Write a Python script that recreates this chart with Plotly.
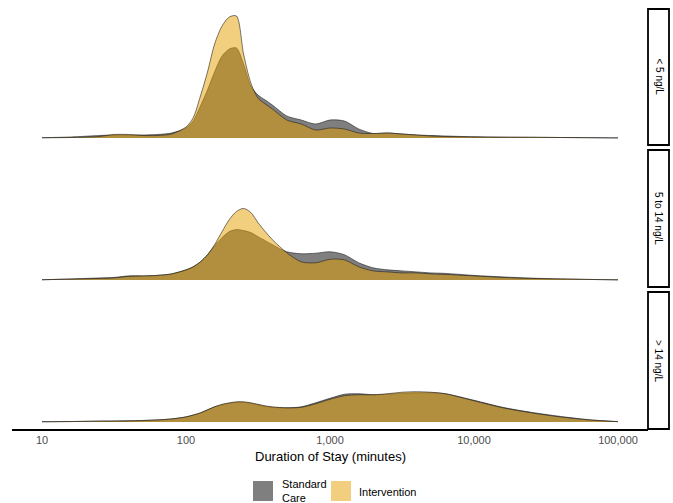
import plotly.graph_objects as go

# Duration grid (minutes) at which densities were read
minutes = [10, 15.8, 25.1, 31.6, 39.8, 50.1, 63.1, 79.4, 100, 112, 126, 141, 158, 178,
           200, 224, 251, 282, 316, 355, 398, 501, 631, 794, 1000, 1259, 1585, 1995,
           2512, 3162, 3981, 5012, 6310, 10000, 15849, 25119, 39811, 63096, 100000]

# Density (arbitrary scaled units)
std_lt5 = [0.3, 1, 2.5, 3, 3, 3, 3.5, 5, 10, 17, 32, 48, 66, 82, 89, 90, 74, 52, 43, 38, 33,
           22, 18, 14, 18, 17, 9, 4.5, 5, 4, 3, 2.5, 2, 1.2, 0.8, 0.6, 0.5, 0.3, 0.1]
int_lt5 = [0.2, 0.5, 1.5, 3.5, 3.5, 2.5, 2.5, 4, 11, 20, 42, 66, 94, 112, 121, 122, 84, 55, 40, 34, 29,
           18, 14, 8, 10, 9, 5, 4.5, 5, 4, 3, 2, 1.5, 1, 0.8, 0.8, 0.5, 0.3, 0.1]
std_5to14 = [0.2, 1, 2, 2.5, 4, 4, 4.5, 6, 10, 13, 18, 25, 34, 42, 48, 50, 49, 47, 43, 39, 35,
             28, 26, 26.5, 28, 25, 17, 12, 10, 9, 8, 7, 6.5, 4.5, 3, 1.8, 1, 0.5, 0.1]
int_5to14 = [0.2, 0.8, 1.5, 2, 3.5, 4, 4.5, 6, 10, 13, 18, 25, 35, 48, 60, 68, 71, 67, 57, 48, 40,
             27, 18, 17, 20.5, 20, 13, 9, 8, 7, 7, 6, 5.5, 4, 2.5, 1.5, 1, 0.5, 0.1]
std_gt14 = [0.2, 0.4, 0.8, 0.9, 1.1, 1.5, 2, 3, 5, 6.8, 9, 12, 15, 17, 18.5, 19.5, 19.5, 18.5, 17, 15.5, 14.5,
            14, 15, 19, 23.5, 27.5, 28, 27, 27.5, 28.5, 29, 29, 28, 21.5, 14.5, 9.5, 5.5, 2.2, 0.3]
int_gt14 = [0.2, 0.4, 0.8, 0.9, 1, 1.4, 2, 3, 5, 6.8, 9, 12, 15, 17.5, 19, 20, 20, 19, 17.5, 16, 15,
            14, 14.5, 18, 22.5, 26, 27, 27, 28, 29.5, 30, 29.5, 28, 21, 14, 9, 5, 2, 0.3]

panel_labels = ["< 5 ng/L", "5 to 14 ng/L", "> 14 ng/L"]
std_series = [std_lt5, std_5to14, std_gt14]
int_series = [int_lt5, int_5to14, int_gt14]
group_names = ["Standard\nCare", "Intervention"]
tick_vals = [10, 100, 1000, 10000, 100000]
tick_text = ["10", "100", "1,000", "10,000", "100,000"]

STD_FILL = "rgba(0,0,0,0.5)"
INT_FILL = "rgba(230,159,0,0.5)"
LINE = "rgba(30,30,30,0.85)"

W, H = 673, 503
L, R, T, B = 12, 25, 9, 74
PW = W - L - R
PH = H - T - B

def px_x(px):
    return (px - L) / PW

def px_y(py):
    return (H - B - py) / PH

# panel pixel extents (top, bottom)
panels_px = [(9, 145), (150, 287), (292, 429)]

fig = go.Figure()
for i in range(3):
    ax = "" if i == 0 else str(i + 1)
    fig.add_trace(go.Scatter(x=minutes, y=std_series[i], mode="lines", fill="tozeroy",
                             fillcolor=STD_FILL, line=dict(color=LINE, width=0.7, shape="spline", smoothing=0.8),
                             xaxis="x" + ax, yaxis="y" + ax, showlegend=False, hoverinfo="skip"))
    fig.add_trace(go.Scatter(x=minutes, y=int_series[i], mode="lines", fill="tozeroy",
                             fillcolor=INT_FILL, line=dict(color=LINE, width=0.7, shape="spline", smoothing=0.8),
                             xaxis="x" + ax, yaxis="y" + ax, showlegend=False, hoverinfo="skip"))

xr = [1 - 30 / 144, 5 + 30 / 144]
layout = dict(width=W, height=H, margin=dict(l=L, r=R, t=T, b=B),
              plot_bgcolor="white", paper_bgcolor="white",
              font=dict(family="Liberation Sans, Arial, sans-serif", color="black"))
for i in range(3):
    ax = "" if i == 0 else str(i + 1)
    top, bot = panels_px[i]
    bottom = (i == 2)
    layout["xaxis" + ax] = dict(type="log", range=xr, domain=[0, 1], anchor="y" + ax,
                                showgrid=False, zeroline=False,
                                showline=bottom, linecolor="black", linewidth=1.5,
                                showticklabels=bottom, tickvals=tick_vals, ticktext=tick_text,
                                ticks="", tickfont=dict(size=11, color="#4d4d4d"),
                                matches=None if i == 0 else "x")
    layout["yaxis" + ax] = dict(range=[-7, 129], domain=[px_y(bot), px_y(top)], anchor="x" + ax,
                                showgrid=False, zeroline=False, showline=False,
                                showticklabels=False, ticks="")
fig.update_layout(**layout)

shapes = []
annotations = []
for i in range(3):
    top, bot = panels_px[i]
    shapes.append(dict(type="rect", xref="paper", yref="paper",
                       x0=px_x(648), x1=px_x(669), y0=px_y(bot), y1=px_y(top),
                       line=dict(color="black", width=1.8), fillcolor="white"))
    annotations.append(dict(xref="paper", yref="paper", x=px_x(658.5), y=px_y((top + bot) / 2),
                            text=panel_labels[i], textangle=90, showarrow=False,
                            font=dict(size=10, color="black"), xanchor="center", yanchor="middle"))

annotations.append(dict(xref="paper", yref="paper", x=px_x(330), y=px_y(456),
                        text="Duration of Stay (minutes)", showarrow=False,
                        font=dict(size=13, color="black"), xanchor="center", yanchor="middle"))

# legend
shapes.append(dict(type="rect", xref="paper", yref="paper", x0=px_x(253), x1=px_x(273),
                   y0=px_y(501), y1=px_y(481), fillcolor=STD_FILL, line=dict(width=0)))
shapes.append(dict(type="rect", xref="paper", yref="paper", x0=px_x(331), x1=px_x(351),
                   y0=px_y(501), y1=px_y(481), fillcolor=INT_FILL, line=dict(width=0)))
annotations.append(dict(xref="paper", yref="paper", x=px_x(280), y=px_y(491),
                        text=group_names[0].replace("\n", "<br>"), showarrow=False, align="left",
                        font=dict(size=11, color="black"), xanchor="left", yanchor="middle"))
annotations.append(dict(xref="paper", yref="paper", x=px_x(357), y=px_y(492),
                        text=group_names[1], showarrow=False, align="left",
                        font=dict(size=11, color="black"), xanchor="left", yanchor="middle"))

fig.update_layout(shapes=shapes, annotations=annotations)
fig.write_html("out.html", config={"displayModeBar": False},
               post_script="document.body.style.margin='0';document.body.style.overflow='hidden';")
